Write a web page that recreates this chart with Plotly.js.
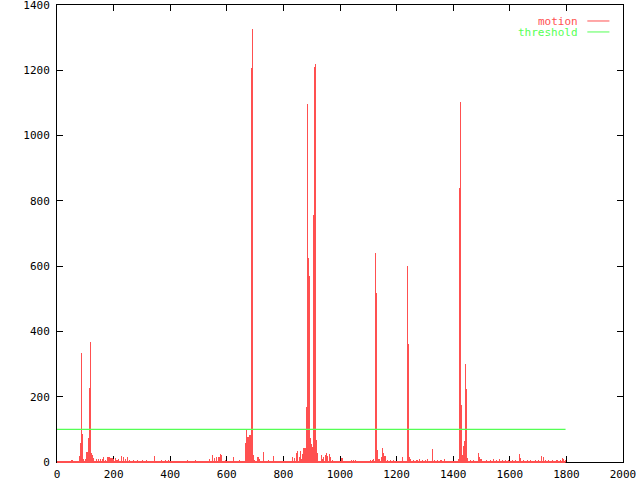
<!DOCTYPE html>
<html>
<head>
<meta charset="utf-8">
<script src="https://cdn.plot.ly/plotly-3.0.1.min.js"></script>
<style>html,body{margin:0;padding:0;background:#fff;}#chart{width:640px;height:480px;}</style>
</head>
<body>
<div id="chart"></div>
<script>
// frame indices and motion values
const frames = [
  23, 35, 50, 55, 62, 70, 79, 84, 87, 91, 95, 100, 106, 111, 114, 117, 120, 124, 127, 130,
  141, 148, 153, 160, 165, 172, 180, 185, 191, 196, 200, 208, 212, 218, 227, 235, 242, 250, 255, 262,
  270, 283, 301, 315, 345, 352, 370, 382, 393, 440, 460, 490, 518, 530, 540, 550, 555, 565, 570, 575,
  578, 581, 595, 623, 644, 668, 671, 675, 679, 682, 686, 689, 691, 695, 698, 710, 714, 729, 748, 766,
  833, 838, 846, 851, 856, 861, 865, 868, 873, 876, 879, 883, 886, 888, 890, 893, 896, 899, 902, 906,
  910, 913, 917, 920, 934, 939, 943, 948, 953, 957, 962, 967, 972, 1007, 1042, 1048, 1054, 1107, 1114, 1118,
  1125, 1128, 1131, 1134, 1138, 1147, 1151, 1155, 1159, 1162, 1168, 1178, 1188, 1221, 1238, 1241, 1244, 1248, 1260, 1272,
  1281, 1290, 1301, 1310, 1317, 1326, 1333, 1343, 1357, 1369, 1378, 1402, 1418, 1422, 1425, 1429, 1432, 1438, 1441, 1444,
  1447, 1450, 1460, 1472, 1489, 1492, 1498, 1519, 1531, 1543, 1552, 1564, 1574, 1584, 1596, 1608, 1619, 1634, 1637, 1649,
  1661, 1672, 1690, 1702, 1712, 1718, 1726, 1738, 1750, 1767, 1779, 1786, 1791, 1796
];
const motion = [
  4, 3, 5, 5, 4, 3, 19, 58, 335, 86, 8, 10, 32, 75, 228, 369, 29, 20, 12, 5,
  9, 8, 9, 10, 14, 6, 14, 14, 12, 12, 8, 12, 6, 8, 19, 15, 8, 14, 5, 4,
  6, 6, 6, 6, 19, 4, 6, 6, 5, 4, 6, 6, 4, 4, 8, 21, 12, 16, 14, 16,
  25, 20, 7, 15, 5, 58, 100, 78, 40, 83, 270, 1207, 1325, 22, 5, 15, 10, 32, 5, 19,
  15, 12, 29, 35, 15, 35, 10, 25, 43, 40, 44, 170, 1096, 620, 625, 570, 75, 55, 45, 757,
  1211, 1219, 68, 28, 22, 8, 15, 20, 29, 18, 25, 15, 5, 11, 5, 5, 5, 5, 5, 8,
  640, 518, 37, 29, 8, 15, 43, 29, 18, 10, 7, 5, 5, 15, 600, 362, 15, 8, 5, 5,
  10, 5, 6, 8, 4, 40, 5, 5, 5, 10, 3, 4, 10, 839, 1102, 175, 20, 48, 63, 301,
  224, 13, 5, 5, 29, 15, 8, 6, 6, 10, 5, 8, 5, 5, 6, 5, 6, 25, 13, 5,
  5, 5, 5, 5, 18, 16, 5, 5, 5, 5, 5, 13, 8, 5
];
const frameRange = [0, 1797];
const thresholdValue = 100;
const xTicks = [0, 200, 400, 600, 800, 1000, 1200, 1400, 1600, 1800, 2000];
const yTicks = [0, 200, 400, 600, 800, 1000, 1200, 1400];
const seriesNames = ['motion', 'threshold'];

const RED = '#ff5050';
const GREEN = '#55ff55';
const FONT = 'DejaVu Sans Mono, monospace';

const traces = [
  {
    type: 'bar', x: frames, y: motion, width: 4,
    marker: {color: RED, line: {width: 0}}, showlegend: false, hoverinfo: 'skip'
  },
  {
    type: 'scatter', mode: 'lines', x: frameRange, y: [thresholdValue, thresholdValue],
    line: {color: GREEN, width: 1.3}, showlegend: false, hoverinfo: 'skip'
  }
];

const axisCommon = {
  showgrid: false, zeroline: false, showline: true, linecolor: '#000', linewidth: 1,
  mirror: 'ticks', ticks: 'inside', ticklen: 6, tickcolor: '#000', tickwidth: 1,
  tickfont: {family: FONT, size: 11, color: '#000'}, layer: 'below traces', fixedrange: true,
  ticklabeloverflow: 'allow'
};

const layout = {
  width: 640, height: 480,
  margin: {l: 57, r: 17, t: 5, b: 18, pad: 0},
  paper_bgcolor: '#fff', plot_bgcolor: '#fff',
  bargap: 0,
  xaxis: Object.assign({}, axisCommon, {range: [0, 2000], tickvals: xTicks, ticktext: xTicks.map(String), ticklabelstandoff: 2}),
  yaxis: Object.assign({}, axisCommon, {range: [0, 1400], tickvals: yTicks, ticktext: yTicks.map(String), ticklabelstandoff: 4}),
  annotations: [
    {xref: 'paper', yref: 'paper', x: 0.924, y: 0.965, xanchor: 'right', yanchor: 'middle', showarrow: false, height: 10,
     text: seriesNames[0], font: {family: FONT, size: 11, color: RED}},
    {xref: 'paper', yref: 'paper', x: 0.924, y: 0.941, xanchor: 'right', yanchor: 'middle', showarrow: false, height: 10,
     text: seriesNames[1], font: {family: FONT, size: 11, color: GREEN}}
  ],
  shapes: [
    {type: 'line', xref: 'x', yref: 'paper', x0: frameRange[0], x1: frameRange[1], y0: 0, y1: 0, layer: 'above', line: {color: RED, width: 2}},
    {type: 'line', xref: 'paper', yref: 'paper', x0: 0.937, x1: 0.976, y0: 0.965, y1: 0.965, line: {color: RED, width: 1}},
    {type: 'line', xref: 'paper', yref: 'paper', x0: 0.937, x1: 0.976, y0: 0.941, y1: 0.941, line: {color: GREEN, width: 1}}
  ],
  showlegend: false
};

Plotly.newPlot('chart', traces, layout, {displayModeBar: false, staticPlot: true});
</script>
</body>
</html>
